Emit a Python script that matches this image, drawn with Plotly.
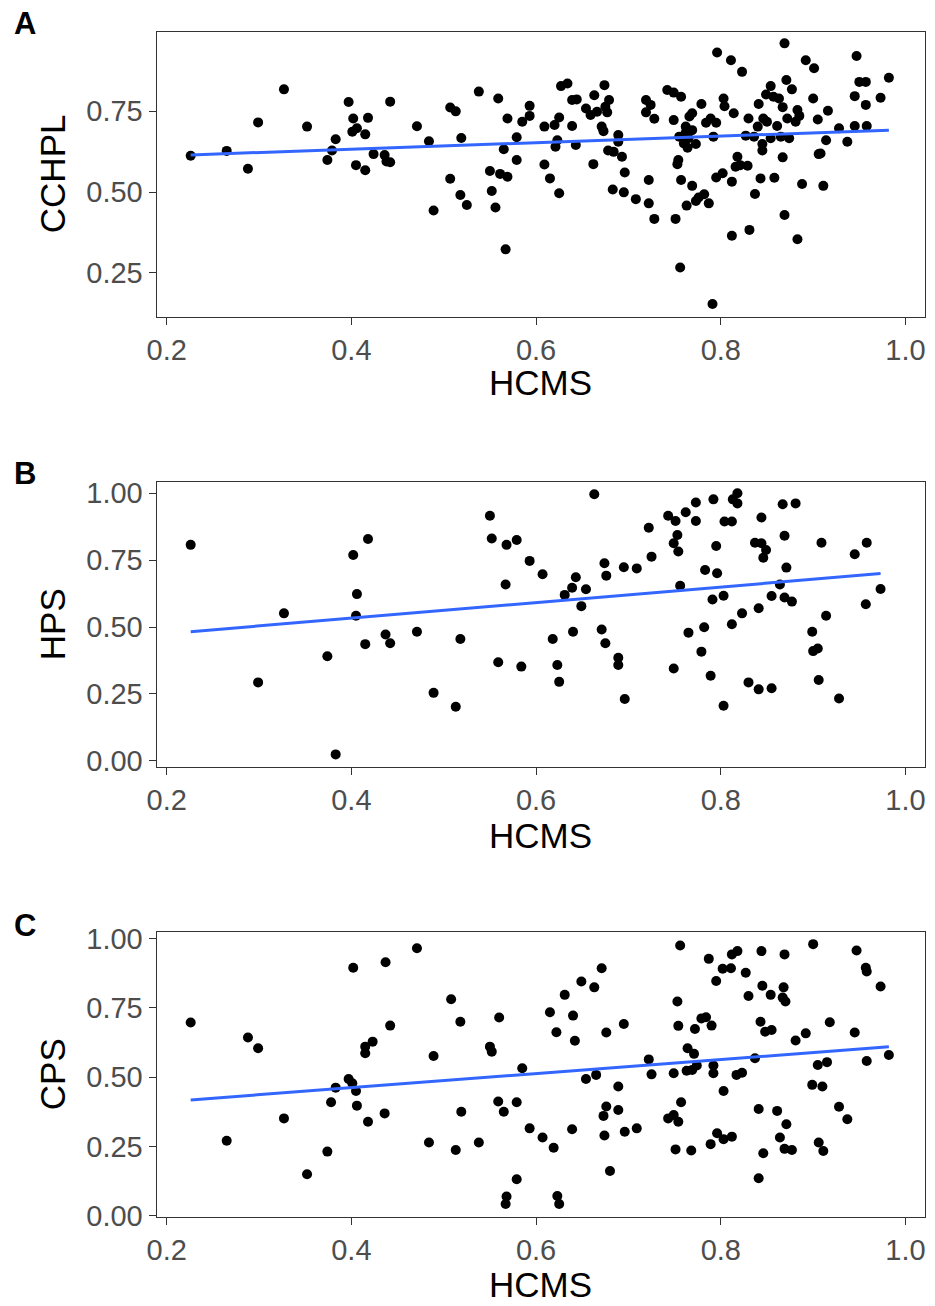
import numpy as np
import plotly.graph_objects as go

# ---------------- Panel A: HCMS vs CCHPL ----------------
a_hcms = [0.226, 0.265, 0.288, 0.299, 0.327, 0.352, 0.374, 0.379, 0.383, 0.397, 0.402, 0.401, 0.406,
          0.405, 0.415, 0.415, 0.418, 0.424, 0.436, 0.438, 0.442, 0.442, 0.471, 0.484, 0.489, 0.507,
          0.507, 0.513, 0.519, 0.518, 0.525,
          0.538, 0.559, 0.569, 0.565, 0.579, 0.579, 0.550, 0.561, 0.569, 0.552, 0.556, 0.567, 0.585,
          0.593, 0.593, 0.609, 0.609, 0.615, 0.625, 0.620, 0.625, 0.623, 0.621, 0.627, 0.634, 0.639,
          0.639, 0.643, 0.644, 0.654, 0.659, 0.663, 0.666, 0.674, 0.675, 0.679, 0.677, 0.671, 0.673,
          0.662, 0.689, 0.689, 0.678, 0.684, 0.693, 0.696, 0.683, 0.695, 0.708, 0.719, 0.724, 0.719,
          0.728, 0.722, 0.722, 0.728, 0.742, 0.749, 0.757, 0.749, 0.755, 0.762, 0.766, 0.769, 0.762,
          0.769, 0.765, 0.760, 0.764, 0.773, 0.754, 0.753, 0.757, 0.769, 0.763, 0.773, 0.776, 0.782,
          0.787, 0.751, 0.756, 0.791, 0.779, 0.784, 0.789, 0.795, 0.792, 0.796, 0.803, 0.804, 0.811,
          0.823, 0.814, 0.795, 0.802, 0.812, 0.812, 0.818, 0.816, 0.821, 0.829, 0.831, 0.827, 0.830,
          0.837, 0.836, 0.840, 0.841, 0.843, 0.845, 0.845, 0.846, 0.849, 0.854, 0.857, 0.850, 0.854,
          0.858, 0.861, 0.863, 0.867, 0.865, 0.869, 0.867, 0.869, 0.871, 0.877, 0.872, 0.874, 0.883,
          0.881, 0.885, 0.883, 0.888, 0.892, 0.901, 0.900, 0.905, 0.914, 0.908, 0.906, 0.911, 0.916,
          0.928, 0.937, 0.947, 0.950, 0.957, 0.945, 0.957, 0.945, 0.958, 0.973, 0.982]
a_cchpl = [0.612, 0.627, 0.572, 0.715, 0.817, 0.702, 0.599, 0.628, 0.663, 0.778, 0.727, 0.686, 0.697,
           0.583, 0.678, 0.567, 0.729, 0.617, 0.614, 0.594, 0.592, 0.779, 0.703, 0.657, 0.443, 0.541,
           0.761, 0.749, 0.667, 0.491, 0.460,
           0.810, 0.789, 0.727, 0.632, 0.669, 0.599, 0.565, 0.556, 0.547, 0.503, 0.452, 0.323, 0.717,
           0.766, 0.735, 0.702, 0.585, 0.542, 0.496, 0.707, 0.730, 0.660, 0.640, 0.827, 0.835, 0.784,
           0.704, 0.645, 0.786, 0.758, 0.738, 0.799, 0.748, 0.830, 0.763, 0.784, 0.746, 0.702, 0.688,
           0.586, 0.676, 0.655, 0.628, 0.624, 0.609, 0.560, 0.508, 0.499, 0.478, 0.784, 0.769, 0.746,
           0.726, 0.537, 0.465, 0.417, 0.815, 0.807, 0.794, 0.722, 0.671, 0.702, 0.733, 0.743, 0.683,
           0.691, 0.666, 0.650, 0.637, 0.648, 0.599, 0.586, 0.537, 0.519, 0.458, 0.472, 0.483, 0.493,
           0.465, 0.417, 0.267, 0.154, 0.772, 0.714, 0.727, 0.714, 0.671, 0.931, 0.789, 0.765, 0.907,
           0.871, 0.743, 0.545, 0.558, 0.532, 0.365, 0.609, 0.578, 0.583, 0.581, 0.383, 0.674, 0.727,
           0.494, 0.671, 0.702, 0.772, 0.542, 0.648, 0.628, 0.727, 0.801, 0.827, 0.794, 0.717, 0.666,
           0.544, 0.704, 0.789, 0.762, 0.671, 0.429, 0.607, 0.959, 0.846, 0.817, 0.727, 0.666, 0.753,
           0.717, 0.735, 0.354, 0.525, 0.907, 0.882, 0.789, 0.724, 0.660, 0.619, 0.617, 0.519, 0.751,
           0.697, 0.655, 0.920, 0.840, 0.840, 0.796, 0.769, 0.704, 0.704, 0.791, 0.853]

# ---------------- Panel B: HCMS vs HPS ----------------
b_hcms = [0.226, 0.299, 0.327, 0.374, 0.383, 0.402, 0.406, 0.405, 0.418, 0.415, 0.437, 0.442, 0.471,
          0.489, 0.513, 0.518,
          0.550, 0.552, 0.568, 0.579, 0.567, 0.559, 0.584, 0.593, 0.607, 0.618, 0.623, 0.625, 0.631,
          0.639, 0.643, 0.640, 0.649, 0.654, 0.663, 0.674, 0.676, 0.671, 0.675, 0.689, 0.689, 0.695,
          0.709, 0.696, 0.722, 0.725, 0.749, 0.743, 0.751, 0.753, 0.749, 0.754, 0.756, 0.762, 0.765,
          0.773, 0.773, 0.782, 0.783, 0.779, 0.789, 0.792, 0.795, 0.796, 0.791, 0.803, 0.803, 0.804,
          0.812, 0.812, 0.813, 0.818, 0.818, 0.823, 0.830, 0.837, 0.841, 0.841, 0.844, 0.844, 0.849,
          0.846, 0.855, 0.855, 0.864, 0.867, 0.869, 0.871, 0.869, 0.877, 0.881, 0.899, 0.900, 0.905,
          0.906, 0.909, 0.914, 0.928, 0.945, 0.958, 0.957, 0.973]
b_hps = [0.807, 0.293, 0.551, 0.391, 0.024, 0.769, 0.623, 0.542, 0.829, 0.436, 0.472, 0.439, 0.482,
         0.254, 0.202, 0.455,
         0.916, 0.831, 0.807, 0.825, 0.659, 0.368, 0.352, 0.747, 0.697, 0.455, 0.358, 0.295, 0.620,
         0.647, 0.686, 0.482, 0.578, 0.641, 0.996, 0.738, 0.692, 0.491, 0.439, 0.385, 0.358, 0.723,
         0.719, 0.231, 0.871, 0.763, 0.345, 0.916, 0.896, 0.844, 0.813, 0.782, 0.654, 0.929, 0.479,
         0.965, 0.896, 0.499, 0.713, 0.408, 0.318, 0.977, 0.803, 0.701, 0.603, 0.617, 0.206, 0.894,
         0.894, 0.510, 0.977, 1.000, 0.962, 0.551, 0.293, 0.815, 0.570, 0.267, 0.909, 0.813, 0.788,
         0.759, 0.616, 0.271, 0.659, 0.959, 0.841, 0.722, 0.610, 0.595, 0.962, 0.482, 0.410, 0.420,
         0.302, 0.815, 0.542, 0.233, 0.772, 0.815, 0.585, 0.642]

# ---------------- Panel C: HCMS vs CPS ----------------
c_hcms = [0.226, 0.265, 0.288, 0.299, 0.327, 0.352, 0.374, 0.378, 0.383, 0.397, 0.401, 0.405, 0.406,
          0.402, 0.415, 0.415, 0.423, 0.418, 0.436, 0.437, 0.442, 0.471, 0.484, 0.489, 0.508, 0.513,
          0.518, 0.519,
          0.538, 0.550, 0.552, 0.560, 0.559, 0.565, 0.579, 0.579, 0.568, 0.567, 0.585, 0.593, 0.607,
          0.619, 0.623, 0.625, 0.615, 0.622, 0.631, 0.640, 0.642, 0.639, 0.649, 0.663, 0.654, 0.665,
          0.671, 0.676, 0.676, 0.673, 0.674, 0.680, 0.689, 0.689, 0.695, 0.696, 0.709, 0.722, 0.725,
          0.749, 0.743, 0.749, 0.754, 0.751, 0.757, 0.753, 0.754, 0.756, 0.764, 0.771, 0.763, 0.769,
          0.774, 0.768, 0.772, 0.779, 0.784, 0.790, 0.792, 0.792, 0.789, 0.796, 0.803, 0.812, 0.803,
          0.787, 0.795, 0.802, 0.811, 0.812, 0.818, 0.827, 0.830, 0.817, 0.823, 0.837, 0.841, 0.841,
          0.846, 0.844, 0.845, 0.854, 0.843, 0.848, 0.855, 0.861, 0.864, 0.869, 0.877, 0.871, 0.869,
          0.868, 0.867, 0.870, 0.881, 0.892, 0.900, 0.905, 0.915, 0.899, 0.910, 0.906, 0.911, 0.918,
          0.928, 0.937, 0.947, 0.957, 0.958, 0.945, 0.973, 0.958, 0.982]
c_cps = [0.697, 0.270, 0.643, 0.604, 0.351, 0.149, 0.231, 0.409, 0.462, 0.493, 0.478, 0.450, 0.397,
         0.895, 0.610, 0.586, 0.628, 0.339, 0.369, 0.915, 0.686, 0.965, 0.264, 0.576, 0.781, 0.237,
         0.700, 0.375,
         0.264, 0.610, 0.592, 0.715, 0.412, 0.375, 0.409, 0.131, 0.069, 0.042, 0.532, 0.315, 0.282,
         0.245, 0.071, 0.042, 0.734, 0.662, 0.797, 0.722, 0.631, 0.312, 0.845, 0.824, 0.493, 0.508,
         0.893, 0.661, 0.394, 0.360, 0.289, 0.161, 0.466, 0.381, 0.692, 0.303, 0.315, 0.564, 0.510,
         0.514, 0.351, 0.363, 0.339, 0.239, 0.409, 0.773, 0.685, 0.975, 0.604, 0.584, 0.523, 0.526,
         0.542, 0.235, 0.674, 0.712, 0.716, 0.686, 0.542, 0.514, 0.258, 0.297, 0.276, 0.285, 0.450,
         0.927, 0.847, 0.891, 0.893, 0.943, 0.955, 0.877, 0.793, 0.508, 0.516, 0.568, 0.385, 0.135,
         0.225, 0.955, 0.830, 0.797, 0.700, 0.664, 0.670, 0.378, 0.282, 0.241, 0.237, 0.330, 0.943,
         0.824, 0.787, 0.773, 0.632, 0.658, 0.980, 0.544, 0.554, 0.472, 0.466, 0.264, 0.233, 0.698,
         0.393, 0.348, 0.957, 0.895, 0.881, 0.661, 0.827, 0.558, 0.580]

x_title = "HCMS"
panel_labels = ["A", "B", "C"]
y_titles = ["CCHPL", "HPS", "CPS"]
x_ticks = [0.2, 0.4, 0.6, 0.8, 1.0]
x_ticktext = ["0.2", "0.4", "0.6", "0.8", "1.0"]
a_ticks = [0.25, 0.50, 0.75]
bc_ticks = [0.00, 0.25, 0.50, 0.75, 1.00]

W, H = 935, 1306
panels = [
    dict(x=a_hcms, y=a_cchpl, top=31.7, bot=316.7, yr=[0.115, 0.995], yt=a_ticks),
    dict(x=b_hcms, y=b_hps, top=481.7, bot=766.7, yr=[-0.022, 1.043], yt=bc_ticks),
    dict(x=c_hcms, y=c_cps, top=931.7, bot=1216.7, yr=[-0.004, 1.025], yt=bc_ticks),
]
label_y = [23.5, 474, 925]
xtitle_y = [383, 835, 1284]
left_px, right_px = 156.7, 925.0

fig = go.Figure()
layout = dict(width=W, height=H, margin=dict(l=0, r=0, t=0, b=0, autoexpand=False),
              template="none",
              paper_bgcolor="white", plot_bgcolor="white", showlegend=False,
              font=dict(family="Arial, Liberation Sans, sans-serif", color="#4D4D4D"))
annotations = []
for i, p in enumerate(panels):
    n = "" if i == 0 else str(i + 1)
    xa, ya = "x" + n, "y" + n
    fig.add_trace(go.Scatter(x=p["x"], y=p["y"], mode="markers", xaxis=xa, yaxis=ya,
                             marker=dict(color="black", size=10, line=dict(width=0))))
    xs = np.array(p["x"]); ys = np.array(p["y"])
    slope, icpt = np.polyfit(xs, ys, 1)
    fx = np.linspace(xs.min(), xs.max(), 50)
    fig.add_trace(go.Scatter(x=fx, y=icpt + slope * fx, mode="lines", xaxis=xa, yaxis=ya,
                             line=dict(color="#3366FF", width=3)))
    ydom = [1 - p["bot"] / H, 1 - p["top"] / H]
    common = dict(showline=True, linecolor="#333333", linewidth=1.3, mirror=True,
                  showgrid=False, zeroline=False, ticks="outside", ticklen=7,
                  tickcolor="#333333", tickwidth=1.3, automargin=False,
                  tickfont=dict(size=29, color="#4D4D4D"))
    layout["xaxis" + n] = dict(domain=[left_px / W, right_px / W], range=[0.1892, 1.0211],
                               tickvals=x_ticks, ticktext=x_ticktext, anchor=ya, **common)
    layout["yaxis" + n] = dict(domain=ydom, range=p["yr"], tickvals=p["yt"],
                               tickformat=".2f", anchor=xa, **common)
    annotations.append(dict(text="<b>%s</b>" % panel_labels[i], x=12 / W, y=1 - label_y[i] / H,
                            xref="paper", yref="paper", xanchor="left", yanchor="middle",
                            showarrow=False, font=dict(size=31, color="black")))
    annotations.append(dict(text=x_title, x=(left_px + right_px) / 2 / W, y=1 - xtitle_y[i] / H,
                            xref="paper", yref="paper", xanchor="center", yanchor="middle",
                            showarrow=False, font=dict(size=35, color="black")))
    annotations.append(dict(text=y_titles[i], x=52 / W, y=1 - (p["top"] + p["bot"]) / 2 / H,
                            xref="paper", yref="paper", xanchor="center", yanchor="middle",
                            textangle=-90, showarrow=False, font=dict(size=35, color="black")))
layout["annotations"] = annotations
fig.update_layout(**layout)
fig.write_html("out.html", config={"displayModeBar": False},
               post_script="document.body.style.margin='0';document.body.style.overflow='hidden';")
